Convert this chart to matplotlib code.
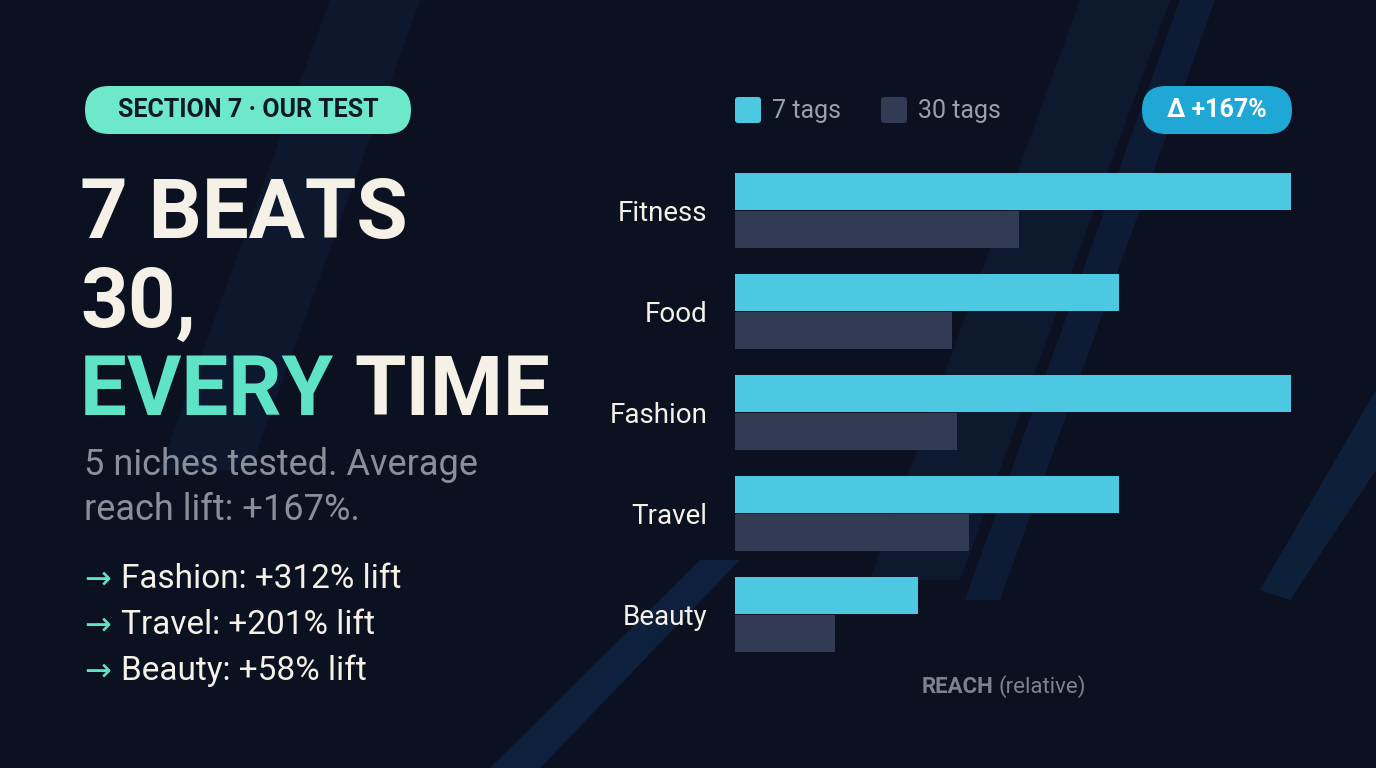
import matplotlib
matplotlib.use("Agg")
import matplotlib.pyplot as plt
from matplotlib.patches import Polygon, FancyBboxPatch

categories = ["Fitness", "Food", "Fashion", "Travel", "Beauty"]
reach_7 = [100, 69, 100, 69, 33]
reach_30 = [51, 39, 40, 42, 18]
bullets = ["Fashion: +312% lift", "Travel: +201% lift", "Beauty: +58% lift"]

BG = "#0b1120"
CYAN = "#4cc8e3"
DARK = "#313b54"
CREAM = "#f6f1e7"
TEAL = "#5fe3c6"
GREY = "#8a8f99"

W, H = 1376, 768
fig = plt.figure(figsize=(13.76, 7.68), dpi=100, facecolor=BG)

bg = fig.add_axes([0, 0, 1, 1]); bg.set_xlim(0, W); bg.set_ylim(H, 0); bg.axis("off")
for pts, c, a in [
    ([(330, 0), (420, 0), (250, 470), (160, 470)], "#12264a", 0.35),
    ([(1080, 0), (1170, 0), (960, 580), (870, 580)], "#12284d", 0.35),
    ([(1180, 0), (1215, 0), (1000, 600), (965, 600)], "#163463", 0.3),
    ([(1376, 390), (1376, 470), (1290, 600), (1260, 590)], "#163a6b", 0.35),
    ([(700, 560), (740, 560), (540, 768), (490, 768)], "#15386a", 0.4),
]:
    bg.add_patch(Polygon(pts, closed=True, fc=c, alpha=a, ec="none"))

bg.add_patch(FancyBboxPatch((85, 86), 326, 48, boxstyle="round,pad=0,rounding_size=24",
                            fc="#6ee8cb", ec="none"))
bg.text(248, 110, "SECTION 7 · OUR TEST", ha="center", va="center", fontsize=18,
        fontweight="bold", family="Roboto", color="#0d1a24")

tf = dict(family="Roboto", fontweight="bold", fontsize=60, va="baseline")
bg.text(80, 238, "7 BEATS", color=CREAM, **tf)
bg.text(80, 327, "30,", color=CREAM, **tf)
t = bg.text(80, 415, "EVERY ", color=TEAL, **tf)
fig.canvas.draw()
bb = t.get_window_extent()
bg.text(80 + bb.width, 415, "TIME", color=CREAM, **tf)

bg.text(84, 475, "5 niches tested. Average", color=GREY, fontsize=26, family="Roboto", va="baseline")
bg.text(84, 520, "reach lift: +167%.", color=GREY, fontsize=26, family="Roboto", va="baseline")
for i, b in enumerate(bullets):
    y = 588 + 46 * i
    bg.text(84, y, "→", color=TEAL, fontsize=23, family="DejaVu Sans", va="baseline")
    bg.text(121, y, b, color=CREAM, fontsize=24, family="Roboto", va="baseline")

bg.add_patch(FancyBboxPatch((735, 97), 26, 26, boxstyle="round,pad=0,rounding_size=3", fc=CYAN, ec="none"))
bg.text(772, 111, "7 tags", color="#9aa0ab", fontsize=18, family="Roboto", va="center")
bg.add_patch(FancyBboxPatch((881, 97), 26, 26, boxstyle="round,pad=0,rounding_size=3", fc=DARK, ec="none"))
bg.text(918, 111, "30 tags", color="#9aa0ab", fontsize=18, family="Roboto", va="center")
bg.add_patch(FancyBboxPatch((1142, 86), 150, 48, boxstyle="round,pad=0,rounding_size=24", fc="#1fa7d6", ec="none"))
bg.text(1217, 110, "Δ +167%", color="white", fontsize=18, fontweight="bold", family="Roboto",
        ha="center", va="center")

left, right, top, bottom = 735, 1291, 160, 665
ax = fig.add_axes([left / W, 1 - bottom / H, (right - left) / W, (bottom - top) / H])
ax.set_facecolor("none")
ax.set_xlim(0, 100)
ax.set_ylim(len(categories) - 0.5, -0.5)
ys = list(range(len(categories)))
ax.barh([y - 0.19 for y in ys], reach_7, height=0.37, color=CYAN)
ax.barh([y + 0.19 for y in ys], reach_30, height=0.37, color=DARK)
ax.set_yticks(ys)
ax.set_yticklabels(categories, color=CREAM, fontsize=20, family="Roboto")
ax.tick_params(axis="y", length=0, pad=20)
ax.set_xticks([])
for s in ax.spines.values():
    s.set_visible(False)

r = bg.text(922, 687, "REACH", color="#7d838e", fontsize=16, fontweight="bold", family="Roboto",
            ha="left", va="center")
fig.canvas.draw()
rb = r.get_window_extent()
bg.text(922 + rb.width + 5, 687, "(relative)", color="#7d838e", fontsize=16, family="Roboto", ha="left", va="center")

fig.savefig("out.png", dpi=100, facecolor=BG)
